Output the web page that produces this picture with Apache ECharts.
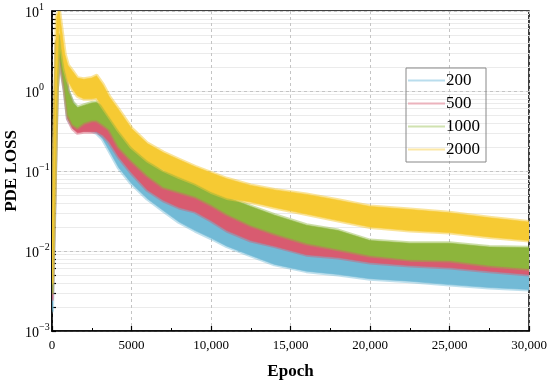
<!DOCTYPE html>
<html>
<head>
<meta charset="utf-8">
<script src="https://cdn.jsdelivr.net/npm/echarts@6/dist/echarts.min.js"></script>
<style>html,body{margin:0;padding:0;background:#fff}#c{width:550px;height:385px}</style>
</head>
<body>
<div id="c"></div>
<script>
// ---- data ----
const epochs = [0, 150, 300, 450, 600, 800, 1000, 1300, 1600, 2000, 2500, 2800, 3200, 3600, 4200, 5000, 6000, 7000, 8000, 9000, 10000, 11000, 12500, 14000, 16000, 18000, 20000, 22500, 25000, 27500, 30000];

const loss200Lo = [0.0018, 0.03, 1.0, 2.8, 1.8, 1.0, 0.45, 0.36, 0.33, 0.33, 0.32, 0.30, 0.25, 0.18, 0.11, 0.07, 0.045, 0.032, 0.023, 0.018, 0.0145, 0.0115, 0.0088, 0.0068, 0.0056, 0.0051, 0.0045, 0.0042, 0.0038, 0.0035, 0.0033];
const loss200Hi = [0.006, 0.2, 4.0, 4.8, 3.0, 1.7, 1.0, 0.70, 0.58, 0.58, 0.60, 0.58, 0.50, 0.40, 0.25, 0.13, 0.08, 0.055, 0.04, 0.031, 0.025, 0.020, 0.015, 0.0115, 0.0095, 0.0088, 0.0075, 0.0072, 0.0066, 0.0062, 0.0058];

const loss500Lo = [0.0025, 0.04, 1.0, 2.8, 1.8, 1.0, 0.45, 0.34, 0.30, 0.31, 0.31, 0.31, 0.28, 0.23, 0.15, 0.095, 0.058, 0.043, 0.035, 0.031, 0.024, 0.018, 0.0135, 0.0115, 0.009, 0.0083, 0.0072, 0.0066, 0.0062, 0.0056, 0.0051];
const loss500Hi = [0.007, 0.2, 4.0, 4.8, 3.0, 1.7, 0.95, 0.65, 0.55, 0.55, 0.60, 0.60, 0.55, 0.45, 0.30, 0.17, 0.10, 0.07, 0.058, 0.05, 0.04, 0.03, 0.022, 0.018, 0.013, 0.0115, 0.0095, 0.0088, 0.0085, 0.0078, 0.0072];

const loss1000Lo = [0.003, 0.05, 1.0, 3.0, 2.0, 1.1, 0.5, 0.38, 0.35, 0.40, 0.43, 0.43, 0.38, 0.33, 0.20, 0.135, 0.088, 0.063, 0.055, 0.048, 0.038, 0.029, 0.021, 0.0165, 0.0125, 0.0105, 0.0088, 0.0078, 0.0076, 0.0066, 0.006];
const loss1000Hi = [0.008, 0.2, 4.0, 5.0, 3.2, 1.8, 1.0, 0.72, 0.62, 0.66, 0.71, 0.72, 0.66, 0.58, 0.35, 0.22, 0.14, 0.10, 0.088, 0.078, 0.06, 0.047, 0.036, 0.028, 0.021, 0.018, 0.0135, 0.0125, 0.0125, 0.0112, 0.011];

const loss2000Lo = [0.004, 0.05, 1.5, 7.0, 3.5, 1.9, 1.35, 1.05, 0.87, 0.80, 0.80, 0.82, 0.63, 0.48, 0.32, 0.20, 0.135, 0.103, 0.084, 0.07, 0.055, 0.046, 0.041, 0.035, 0.029, 0.024, 0.020, 0.018, 0.017, 0.015, 0.0135];
const loss2000Hi = [0.012, 0.3, 8.5, 10.0, 6.0, 2.9, 2.1, 1.75, 1.45, 1.40, 1.45, 1.55, 1.20, 0.85, 0.58, 0.34, 0.22, 0.17, 0.138, 0.113, 0.095, 0.08, 0.066, 0.058, 0.051, 0.043, 0.036, 0.033, 0.030, 0.026, 0.023];

const seriesNames = ['200', '500', '1000', '2000'];
const xTickLabels = ['0', '5000', '10,000', '15,000', '20,000', '25,000', '30,000'];
const yTickExponents = ['\u22123', '\u22122', '\u22121', '0', '1'];

// ---- styling ----
const colors = ['#72bad6', '#d85b70', '#8db53c', '#f6ca33'];
const fringe = ['rgba(114,186,214,0.45)', 'rgba(216,91,112,0.45)', 'rgba(141,181,60,0.45)', 'rgba(246,202,51,0.5)'];
const legendColors = ['#b9dded', '#ecb3bd', '#d0e2b0', '#fbe7a6'];
const FONT = 'Liberation Serif';

const bands = [
  [loss200Lo, loss200Hi],
  [loss500Lo, loss500Hi],
  [loss1000Lo, loss1000Hi],
  [loss2000Lo, loss2000Hi]
];

function bandSeries(idx) {
  const lo = bands[idx][0], hi = bands[idx][1];
  const data = epochs.map((e, i) => [e, lo[i], hi[i]]);
  return {
    name: seriesNames[idx],
    type: 'custom',
    xAxisIndex: 0, yAxisIndex: 0,
    clip: true,
    silent: true,
    itemStyle: { color: colors[idx] },
    encode: { x: 0, y: [1, 2] },
    data: data,
    renderItem: function (params, api) {
      if (params.dataIndex !== 0) return null;
      const n = data.length;
      const top = [], bot = [];
      for (let j = 0; j < n; j++) {
        const x = api.value(0, j);
        top.push(api.coord([x, api.value(2, j)]));
        bot.push(api.coord([x, api.value(1, j)]));
      }
      const pts = top.concat(bot.reverse());
      return {
        type: 'group',
        children: [
          { type: 'polygon', shape: { points: pts }, style: { fill: 'none', stroke: fringe[idx], lineWidth: 4, lineJoin: 'round' } },
          { type: 'polygon', shape: { points: pts }, style: { fill: colors[idx], stroke: colors[idx], lineWidth: 0.6 } }
        ]
      };
    }
  };
}

const majorVals = [0.001, 0.01, 0.1, 1, 10];
const minorVals = [];
for (let d = -3; d < 1; d++) {
  for (let m = 2; m <= 9; m++) minorVals.push(+(m * Math.pow(10, d)).toPrecision(3));
}
const allTickVals = majorVals.concat(minorVals).sort((a, b) => a - b);

const chart = echarts.init(document.getElementById('c'), null, { renderer: 'canvas' });
chart.setOption({
  animation: false,
  backgroundColor: '#fff',
  grid: { left: 52, top: 11, right: 21, bottom: 54, outerBoundsMode: 'none', containLabel: false, show: true, borderColor: '#000', borderWidth: 1.5, backgroundColor: 'transparent' },
  legend: {
    left: 406, top: 68, orient: 'vertical',
    data: seriesNames.map((n, i) => ({ name: n, itemStyle: { color: legendColors[i] } })),
    icon: 'rect', itemWidth: 37, itemHeight: 2, itemGap: 6,
    padding: [4, 6, 4, 2],
    borderColor: '#888', borderWidth: 1,
    textStyle: { fontFamily: FONT, fontSize: 17, color: '#000', padding: [0, 0, 0, -4] }
  },
  xAxis: {
    type: 'value', min: 0, max: 30000, interval: 5000,
    name: 'Epoch', nameLocation: 'middle', nameGap: 32, nameMoveOverlap: false,
    nameTextStyle: { fontFamily: FONT, fontSize: 17, fontWeight: 'bold', color: '#000' },
    axisLine: { show: true, lineStyle: { color: '#000', width: 1.5 } },
    axisTick: { show: true, inside: true, length: 5, lineStyle: { color: '#000', width: 1.2 } },
    minorTick: { show: true, splitNumber: 2, length: 3, lineStyle: { color: '#000', width: 1 } },
    splitLine: { show: true, lineStyle: { color: '#c4c4c4', type: [3, 3], width: 1 } },
    axisLabel: {
      fontFamily: FONT, fontSize: 13, color: '#000', margin: 8,
      formatter: function (v) { return xTickLabels[Math.round(v / 5000)]; }
    }
  },
  yAxis: [{
    type: 'log', logBase: 10, min: 0.001, max: 10, position: 'left',
    name: 'PDE LOSS', nameLocation: 'middle', nameGap: 32, nameRotate: 90, nameMoveOverlap: false,
    nameTextStyle: { fontFamily: FONT, fontSize: 17, fontWeight: 'bold', color: '#000' },
    axisLine: { show: true, lineStyle: { color: '#000', width: 1.5 } },
    axisTick: { show: true, inside: true, length: 4, customValues: allTickVals, lineStyle: { color: '#000', width: 1.2 } },
    splitLine: { show: true, lineStyle: { color: '#ebebeb', width: 1 } },
    axisLabel: {
      align: 'left', margin: 27,
      customValues: majorVals,
      formatter: function (v) {
        const k = Math.round(Math.log10(v)) + 3;
        return '{b|10}{s|' + yTickExponents[k] + '}';
      },
      rich: {
        b: { fontFamily: FONT, fontSize: 14, color: '#000', lineHeight: 18, verticalAlign: 'bottom' },
        s: { fontFamily: FONT, fontSize: 10, color: '#000', lineHeight: 18, verticalAlign: 'top' }
      }
    }
  }, {
    type: 'log', logBase: 10, min: 0.001, max: 10, position: 'right',
    axisLine: { show: false },
    axisLabel: { show: false },
    axisTick: { show: false },
    splitLine: { show: true, lineStyle: { color: '#c4c4c4', type: [3, 3], width: 1 } }
  }],
  series: [bandSeries(0), bandSeries(1), bandSeries(2), bandSeries(3)]
});
</script>
</body>
</html>
